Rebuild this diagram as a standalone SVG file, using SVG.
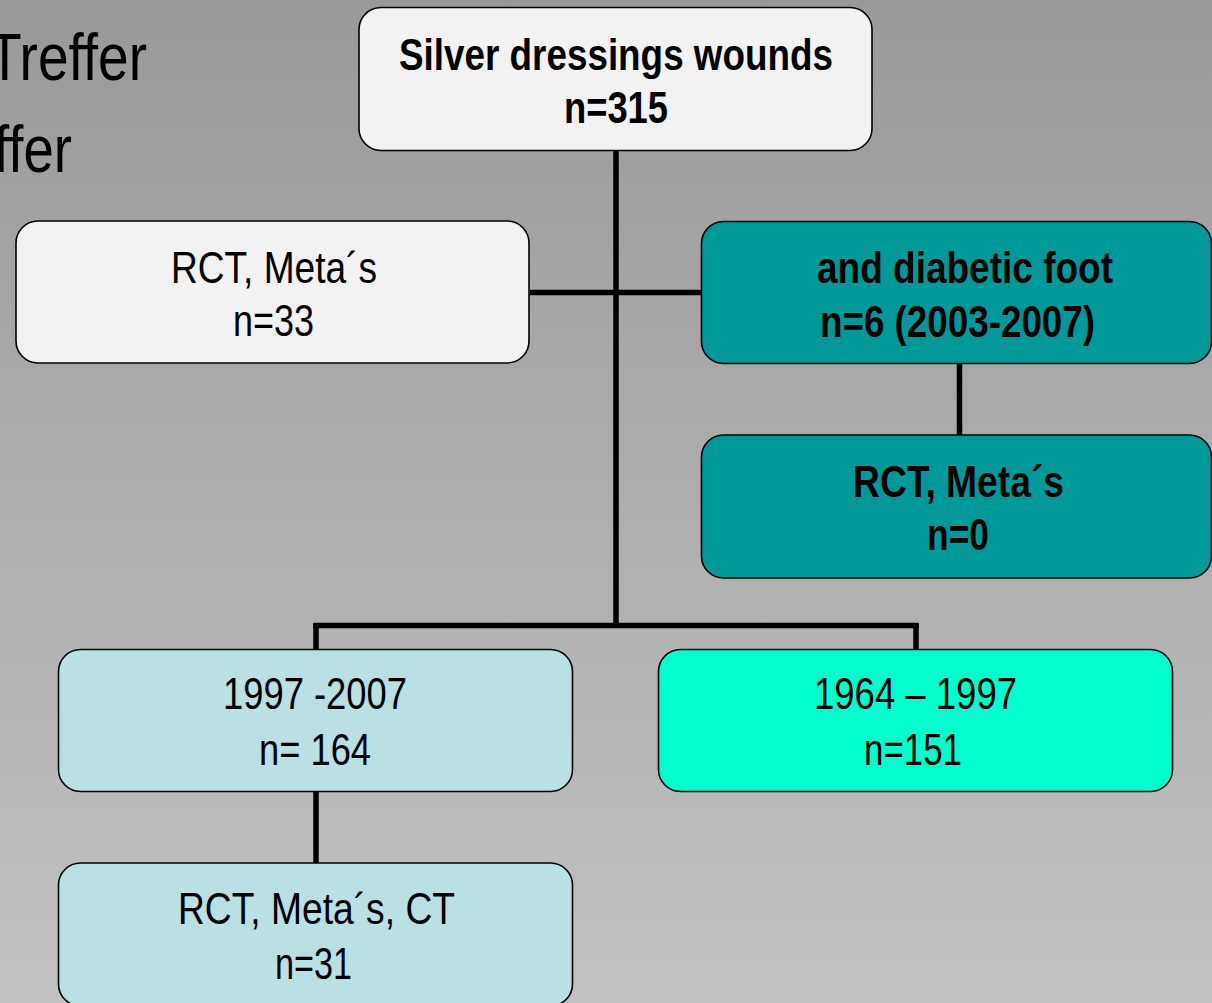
<svg xmlns="http://www.w3.org/2000/svg" width="1212" height="1003" viewBox="0 0 1212 1003">
<defs>
<linearGradient id="bg" x1="0" y1="0" x2="0" y2="1">
<stop offset="0" stop-color="#999999"/>
<stop offset="1" stop-color="#c2c2c2"/>
</linearGradient>
<style>
.box{stroke:#000;stroke-width:1.6}
.w{fill:#f2f2f2}
.teal{fill:#009999}
.lc{fill:#b9e0e3}
.aq{fill:#00ffcc}
text{font-family:"Liberation Sans Narrow","Liberation Sans",Arial,sans-serif;font-size:44px;fill:#000}
.b{font-weight:bold}
.c{text-anchor:middle}
.conn line{stroke:#000;stroke-width:5.5}
</style>
</defs>
<rect width="1212" height="1003" fill="url(#bg)"/>
<g id="heading">
<text x="-12" y="80" style="font-size:66px" textLength="159" lengthAdjust="spacingAndGlyphs">Treffer</text>
<text x="-6" y="172" style="font-size:66px" textLength="78" lengthAdjust="spacingAndGlyphs">ffer</text>
</g>
<g class="conn" id="connectors">
<line x1="616" y1="150" x2="616" y2="628"/>
<line x1="530" y1="292.5" x2="701" y2="292.5"/>
<line x1="313.3" y1="625.5" x2="918.7" y2="625.5"/>
<line x1="316" y1="623" x2="316" y2="649"/>
<line x1="916" y1="623" x2="916" y2="649"/>
<line x1="959.5" y1="363" x2="959.5" y2="435"/>
<line x1="316" y1="791" x2="316" y2="863"/>
</g>
<g id="n-root">
<rect class="box w" x="359" y="7.5" width="513" height="143" rx="22"/>
<text class="b" x="399" y="70" textLength="434" lengthAdjust="spacingAndGlyphs">Silver dressings wounds</text>
<text class="b" x="564" y="123" textLength="104" lengthAdjust="spacingAndGlyphs">n=315</text>
</g>
<g id="n-rct-left">
<rect class="box w" x="16" y="221" width="513" height="142" rx="22"/>
<text x="171" y="283" textLength="206" lengthAdjust="spacingAndGlyphs">RCT, Meta´s</text>
<text x="233" y="336" textLength="81" lengthAdjust="spacingAndGlyphs">n=33</text>
</g>
<g id="n-diabetic">
<rect class="box teal" x="701.5" y="221.5" width="510" height="142" rx="22"/>
<text class="b" x="817" y="283" textLength="296" lengthAdjust="spacingAndGlyphs">and diabetic foot</text>
<text class="b" x="820" y="337" textLength="275" lengthAdjust="spacingAndGlyphs">n=6 (2003-2007)</text>
</g>
<g id="n-rct-teal">
<rect class="box teal" x="701.5" y="435" width="510" height="143" rx="22"/>
<text class="b" x="853" y="497" textLength="211" lengthAdjust="spacingAndGlyphs">RCT, Meta´s</text>
<text class="b" x="927" y="550" textLength="62" lengthAdjust="spacingAndGlyphs">n=0</text>
</g>
<g id="n-1997">
<rect class="box lc" x="58.5" y="649.5" width="514" height="142" rx="22"/>
<text x="223" y="709" textLength="184" lengthAdjust="spacingAndGlyphs">1997 -2007</text>
<text x="259" y="765" textLength="112" lengthAdjust="spacingAndGlyphs">n= 164</text>
</g>
<g id="n-1964">
<rect class="box aq" x="658.5" y="649.5" width="514" height="142" rx="22"/>
<text x="814" y="709" textLength="203" lengthAdjust="spacingAndGlyphs">1964 – 1997</text>
<text x="864" y="765" textLength="98" lengthAdjust="spacingAndGlyphs">n=151</text>
</g>
<g id="n-rct-ct">
<rect class="box lc" x="58.5" y="863" width="514" height="143" rx="22"/>
<text x="178" y="924" textLength="277" lengthAdjust="spacingAndGlyphs">RCT, Meta´s, CT</text>
<text x="275" y="979" textLength="77" lengthAdjust="spacingAndGlyphs">n=31</text>
</g>
</svg>
